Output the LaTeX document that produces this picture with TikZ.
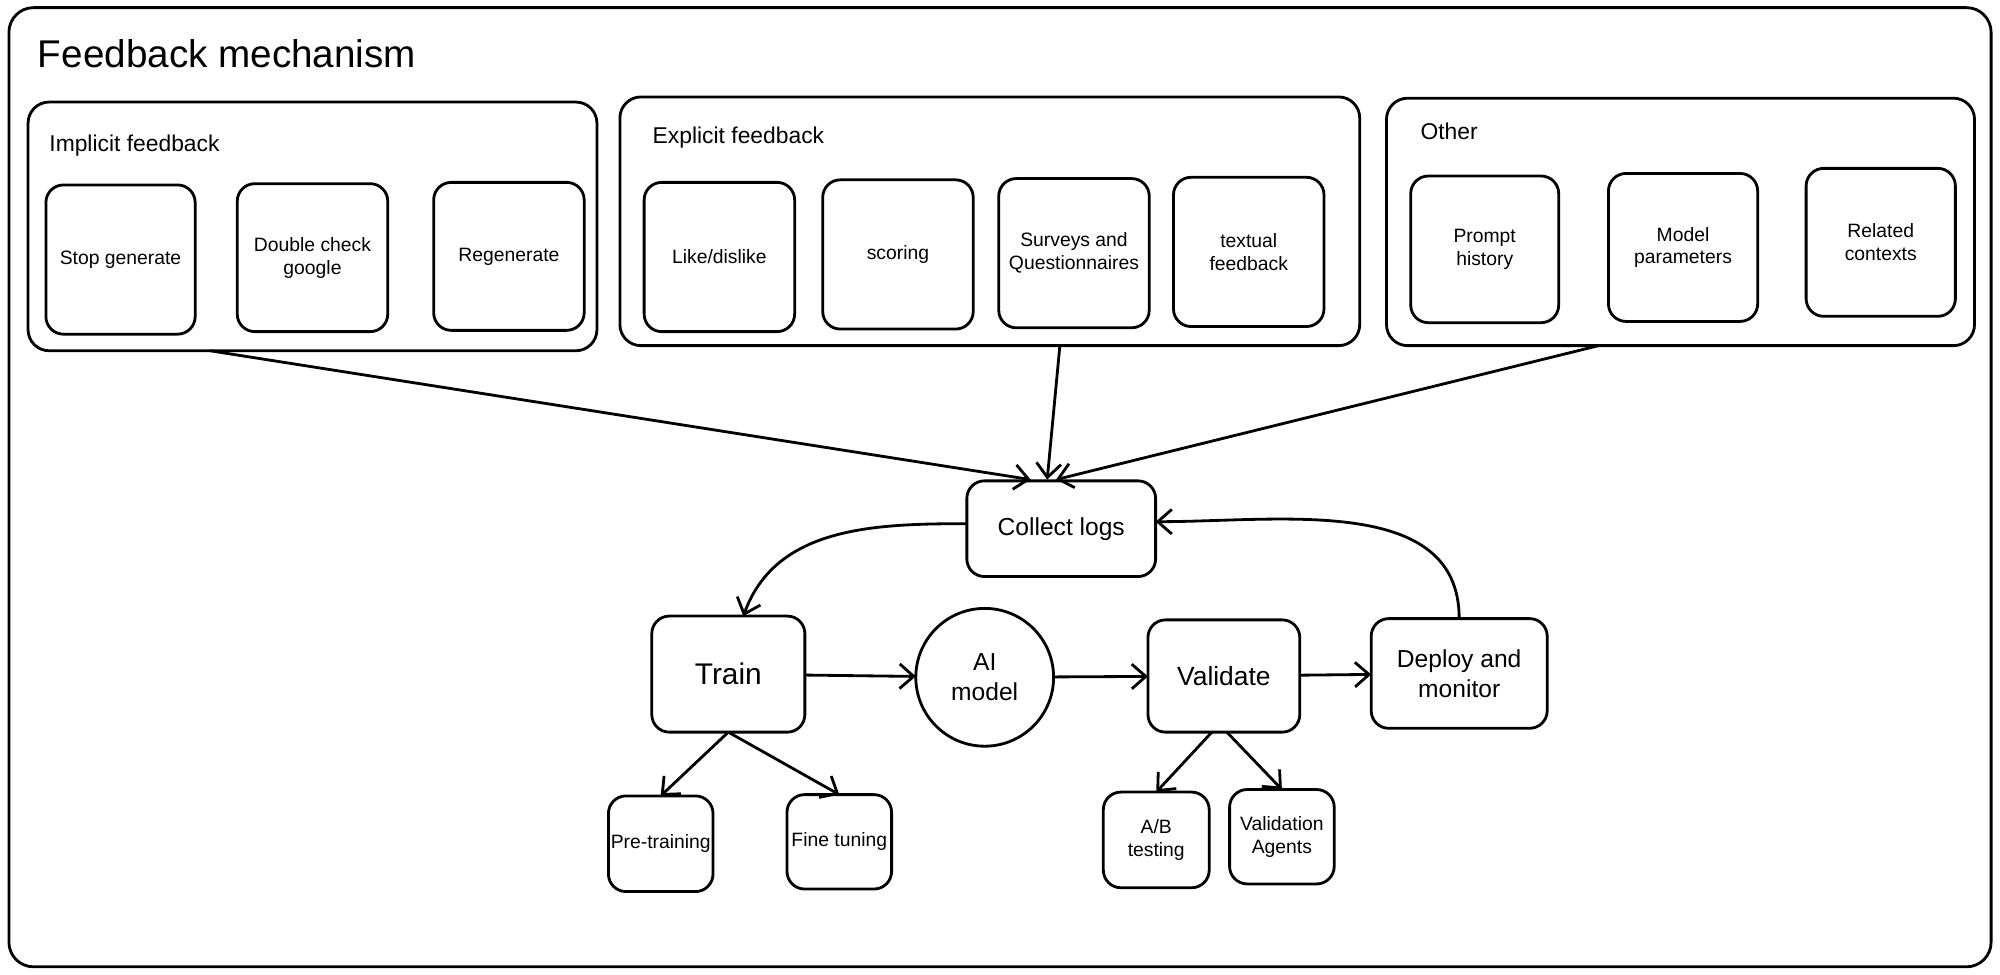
\documentclass[tikz,border=0pt]{standalone}
\usepackage{fontspec}
\setmainfont{Liberation Sans}
\usetikzlibrary{fit}
\usetikzlibrary{arrows.meta}

\begin{document}
\begin{tikzpicture}[
  x=0.01276cm, y=-0.01276cm,
  frame/.style={draw, thick, rounded corners=7pt, inner sep=0pt, outer sep=0pt},
  group/.style={draw, thick, rounded corners=6pt, inner sep=0pt, outer sep=0pt},
  box/.style={draw, thick, rounded corners=5pt, inner sep=0pt, outer sep=0pt},
  stage/.style={draw, thick, rounded corners=5pt, inner sep=0pt, outer sep=0pt},
  small/.style={align=center, font=\fontsize{5.5}{6.5}\selectfont},
  mid/.style={align=center, font=\fontsize{7}{8.5}\selectfont},
  arr/.style={thick, -{Straight Barb[length=4pt,width=7pt]}},
  ]
  \useasboundingbox (0,0) rectangle (1568,764);
  \node (all) [frame, fit={(7,6) (1561,758)}] {};
  \node (title) [anchor=west, font=\fontsize{11}{13}\selectfont] at (20,42) {Feedback mechanism};

  % Implicit feedback
  \node (implicit) [group, fit={(22,80) (468,275)}] {};
  \node (implicitlbl) [anchor=west, font=\fontsize{6.5}{8}\selectfont] at (29,114) {Implicit feedback};
  \node (stop) [box, fit={(36,145) (153,262)}] {};
  \node [small] at (stop) {Stop generate};
  \node (google) [box, fit={(186,144) (304,260)}] {};
  \node [small] at (google) {Double check\\google};
  \node (regen) [box, fit={(340,143) (458,259)}] {};
  \node [small] at (regen) {Regenerate};

  % Explicit feedback
  \node (explicit) [group, fit={(486,76) (1066,271)}] {};
  \node (explicitlbl) [anchor=west, font=\fontsize{6.5}{8}\selectfont] at (502,108) {Explicit feedback};
  \node (like) [box, fit={(505,143) (623,260)}] {};
  \node [small] at (like) {Like/dislike};
  \node (scoring) [box, fit={(645,141) (763,258)}] {};
  \node [small] at (scoring) {scoring};
  \node (surveys) [box, fit={(783,140) (901,257)}] {};
  \node [small] at (surveys) {Surveys and\\Questionnaires};
  \node (textual) [box, fit={(920,139) (1038,256)}] {};
  \node [small] at (textual) {textual\\feedback};

  % Other
  \node (other) [group, fit={(1087,77) (1548,271)}] {};
  \node (otherlbl) [anchor=west, font=\fontsize{6.5}{8}\selectfont] at (1104,103) {Other};
  \node (prompt) [box, fit={(1106,138) (1222,253)}] {};
  \node [small] at (prompt) {Prompt\\history};
  \node (params) [box, fit={(1261,136) (1378,252)}] {};
  \node [small] at (params) {Model\\parameters};
  \node (contexts) [box, fit={(1416,132) (1533,248)}] {};
  \node [small] at (contexts) {Related\\contexts};

  % Loop
  \node (collect) [stage, fit={(758,377) (906,452)}] {};
  \node [mid] at (collect) {Collect logs};
  \node (train) [stage, fit={(511,483) (631,574)}] {};
  \node [font=\fontsize{8.5}{10}\selectfont] at (train) {Train};
  \node (ai) [draw, thick, circle, minimum size=1.378cm, inner sep=0pt, outer sep=0pt, mid] at (772,531) {AI\\model};
  \node (validate) [stage, fit={(900,486) (1019,574)}] {};
  \node [font=\fontsize{7.5}{9}\selectfont] at (validate) {Validate};
  \node (deploy) [stage, fit={(1075,485) (1213,571)}] {};
  \node [mid] at (deploy) {Deploy and\\monitor};

  \node (pretrain) [box, fit={(477,624) (559,699)}] {};
  \node [small] at (pretrain) {Pre-training};
  \node (finetune) [box, fit={(617,623) (699,697)}] {};
  \node [small] at (finetune) {Fine tuning};
  \node (abtest) [box, fit={(865,621) (948,696)}] {};
  \node [small] at (abtest) {A/B\\testing};
  \node (agents) [box, fit={(964,619) (1046,693)}] {};
  \node [small] at (agents) {Validation\\Agents};

  % connectors
  \coordinate (cin1) at (808,376);
  \coordinate (cin2) at (821,376);
  \coordinate (cin3) at (828,376);
  \draw[arr] ([xshift=1.82cm]implicit.south west) -- (cin1);
  \draw[arr] ([xshift=4.40cm]explicit.south west) -- (cin2);
  \draw[arr] ([xshift=2.12cm]other.south west) -- (cin3);
  \draw[arr] ([yshift=0.05cm]collect.west) to[out=180, in=70] ([xshift=0.15cm]train.north);
  \draw[arr] (deploy.north) to[out=90, in=0] ([yshift=0.07cm]collect.east);
  \draw[arr] (train) -- (ai);
  \draw[arr] (ai) -- (validate);
  \draw[arr] (validate) -- (deploy);
  \draw[arr] (train.south) -- (pretrain.north);
  \draw[arr] (train.south) -- (finetune.north);
  \draw[arr] ([xshift=-0.12cm]validate.south) -- (abtest.north);
  \draw[arr] ([xshift=0.03cm]validate.south) -- (agents.north);
\end{tikzpicture}
\end{document}
